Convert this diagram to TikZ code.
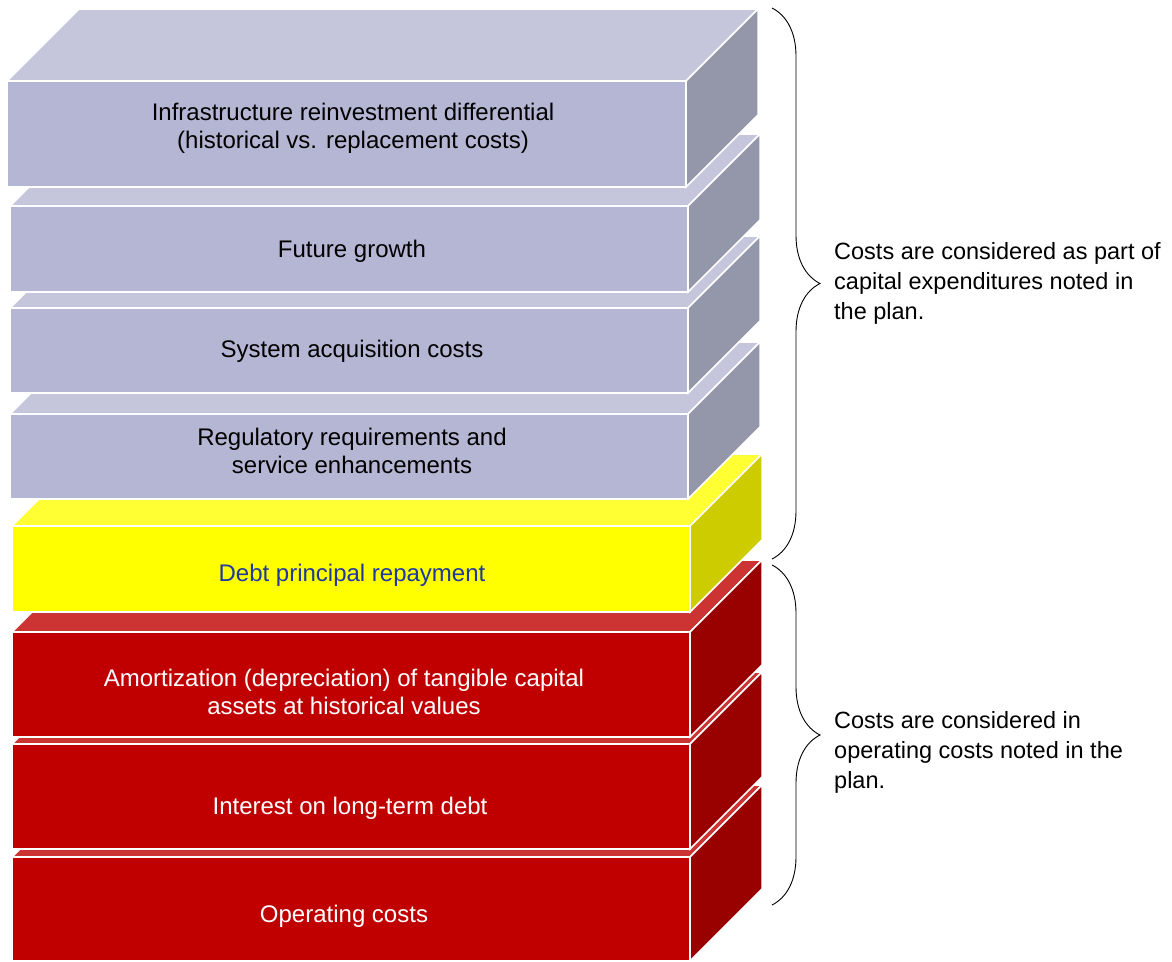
\documentclass[tikz,border=0pt]{standalone}
\usepackage{fontspec}
\setmainfont{Liberation Sans}
\usepackage{tikz}
\usetikzlibrary{decorations.pathreplacing}

\definecolor{slatefront}{RGB}{181,182,211}
\definecolor{slatetop}{RGB}{197,198,220}
\definecolor{slateside}{RGB}{148,150,170}
\definecolor{debtfront}{RGB}{255,255,0}
\definecolor{debttop}{RGB}{255,255,51}
\definecolor{debtside}{RGB}{204,204,0}
\definecolor{opfront}{RGB}{192,0,0}
\definecolor{optop}{RGB}{204,51,51}
\definecolor{opside}{RGB}{153,0,0}
\definecolor{debtblue}{RGB}{32,56,160}

\begin{document}
\begin{tikzpicture}[x=1pt,y=-1pt,
    slabface/.style={draw=white,line width=1.5pt,line join=miter},
    slabtext/.style={align=center,font=\fontsize{24}{28}\selectfont},
    note/.style={align=left,anchor=west,inner sep=0pt,font=\fontsize{23.5}{30}\selectfont},
    brace/.style={decorate,decoration={brace,amplitude=48pt},line width=0.9pt}]
    \useasboundingbox (0,0) rectangle (1172,961);
    % slabs, bottom one first so the upper ones cover its top face
    \foreach \lx/\rx/\ty/\by/\cf/\ct/\cs in {
        12/690/857/961/opfront/optop/opside,
        12/690/744/849/opfront/optop/opside,
        12/690/632/737/opfront/optop/opside,
        12/690/526/612/debtfront/debttop/debtside,
        10/688/414/499/slatefront/slatetop/slateside,
        10/688/308/393/slatefront/slatetop/slateside,
        10/688/206/292/slatefront/slatetop/slateside,
        7/686/81/187/slatefront/slatetop/slateside} {
      \filldraw[slabface,fill=\ct] (\lx,\ty) -- ++(72,-72) -- (\rx+72,\ty-72) -- (\rx,\ty) -- cycle;
      \filldraw[slabface,fill=\cs] (\rx,\ty) -- ++(72,-72) -- (\rx+72,\by-72) -- (\rx,\by) -- cycle;
      \filldraw[slabface,fill=\cf] (\lx,\ty) rectangle (\rx,\by);
    }
    \node[slabtext] (infra) at (353,128) {Infrastructure reinvestment differential\\(historical vs. replacement costs)};
    \node[slabtext] (growth) at (352,251) {Future growth};
    \node[slabtext] (acquisition) at (352,351) {System acquisition costs};
    \node[slabtext] (regulatory) at (352,451) {Regulatory requirements and\\service enhancements};
    \node[slabtext,text=debtblue] (principal) at (352,575) {Debt principal repayment};
    \node[slabtext,text=white] (amortization) at (344,692) {Amortization (depreciation) of tangible capital\\assets at historical values};
    \node[slabtext,text=white] (interest) at (350,808) {Interest on long-term debt};
    \node[slabtext,text=white] (operating) at (344,916) {Operating costs};
    % braces and notes
    \coordinate (capstart) at (772,8);
    \coordinate (capend) at (772,559);
    \coordinate (opstart) at (772,565);
    \coordinate (opend) at (772,905);
    \draw[brace] (capstart) -- (capend);
    \draw[brace] (opstart) -- (opend);
    \node[note] (capnote) at (834,283) {Costs are considered as part of\\capital expenditures noted in\\the plan.};
    \node[note] (opnote) at (834,752) {Costs are considered in\\operating costs noted in the\\plan.};
\end{tikzpicture}
\end{document}
